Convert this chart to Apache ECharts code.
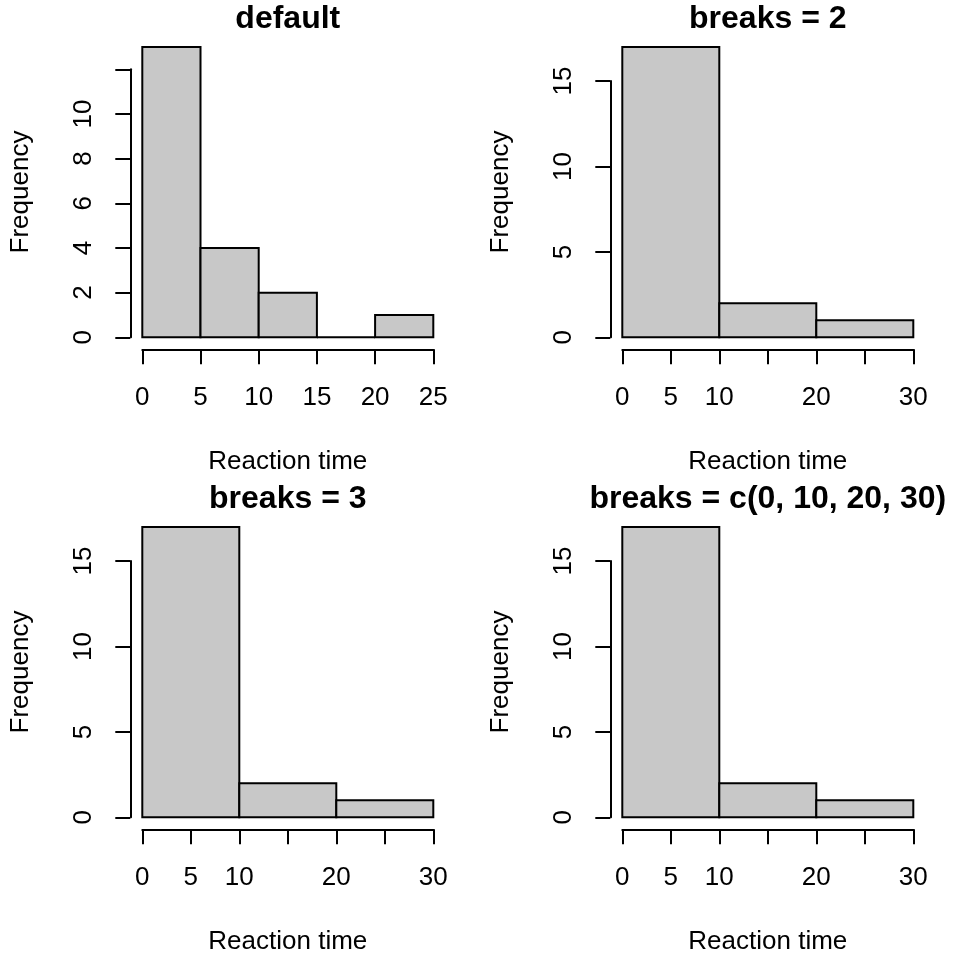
<!DOCTYPE html>
<html>
<head>
<meta charset="utf-8">
<script src="https://cdn.jsdelivr.net/npm/echarts@6/dist/echarts.min.js"></script>
<style>
  html, body { margin: 0; padding: 0; background: #fff; }
  #chart { width: 960px; height: 960px; }
</style>
</head>
<body>
<div id="chart"></div>
<script>
// histogram data, one set per panel
const panelTitles = ['default', 'breaks = 2', 'breaks = 3', 'breaks = c(0, 10, 20, 30)'];

const defaultBreaks = [0, 5, 10, 15, 20, 25];
const defaultCounts = [13, 4, 2, 0, 1];
const breaks2Breaks = [0, 10, 20, 30];
const breaks2Counts = [17, 2, 1];
const breaks3Breaks = [0, 10, 20, 30];
const breaks3Counts = [17, 2, 1];
const breaksCBreaks = [0, 10, 20, 30];
const breaksCCounts = [17, 2, 1];

// tick values and their labels ('' = R dropped the label)
const xTicksA = [0, 5, 10, 15, 20, 25];
const xLabelsA = ['0', '5', '10', '15', '20', '25'];
const xTicksB = [0, 5, 10, 15, 20, 25, 30];
const xLabelsB = ['0', '5', '10', '', '20', '', '30'];
const yTicksA = [0, 2, 4, 6, 8, 10, 12];
const yLabelsA = ['0', '2', '4', '6', '8', '10', ''];
const yTicksB = [0, 5, 10, 15];
const yLabelsB = ['0', '5', '10', '15'];

const xAxisTitle = 'Reaction time';
const yAxisTitle = 'Frequency';

const FONT = '"Liberation Sans", Arial, Helvetica, sans-serif';

const panels = [
  { breaks: defaultBreaks, counts: defaultCounts, xt: xTicksA, xl: xLabelsA, yt: yTicksA, yl: yLabelsA, h: 268 },
  { breaks: breaks2Breaks, counts: breaks2Counts, xt: xTicksB, xl: xLabelsB, yt: yTicksB, yl: yLabelsB, h: 256.2 },
  { breaks: breaks3Breaks, counts: breaks3Counts, xt: xTicksB, xl: xLabelsB, yt: yTicksB, yl: yLabelsB, h: 256.2 },
  { breaks: breaksCBreaks, counts: breaksCCounts, xt: xTicksB, xl: xLabelsB, yt: yTicksB, yl: yLabelsB, h: 256.2 }
];

function labelFor(ticks, labels) {
  return function (v) {
    const i = ticks.indexOf(v);
    return i >= 0 ? labels[i] : '';
  };
}

const grid = [], xAxis = [], yAxis = [], series = [], graphic = [];

panels.forEach((p, k) => {
  const col = k % 2, row = Math.floor(k / 2);
  const left = 142.3 + 480 * col;
  const base = 337.3 + 480 * row;
  grid.push({ left: left, top: base - p.h, width: 291, height: p.h });

  const axisCommon = {
    gridIndex: k,
    type: 'value',
    offset: 12,
    splitLine: { show: false },
    axisLine: { show: true, onZero: false, lineStyle: { color: '#000', width: 2 } },
    axisTick: { show: true, inside: false, length: 15, lineStyle: { color: '#000', width: 2 } },
    nameTextStyle: { color: '#000', fontFamily: FONT, fontSize: 26 },
    nameLocation: 'middle'
  };

  xAxis.push(Object.assign({}, axisCommon, {
    position: 'bottom',
    min: p.xt[0],
    max: p.xt[p.xt.length - 1],
    interval: p.xt[1] - p.xt[0],
    name: xAxisTitle,
    nameGap: 100,
    axisLabel: {
      color: '#000', fontFamily: FONT, fontSize: 26, margin: 36,
      showMinLabel: true, showMaxLabel: true, hideOverlap: false,
      formatter: labelFor(p.xt, p.xl)
    }
  }));

  yAxis.push(Object.assign({}, axisCommon, {
    position: 'left',
    min: p.yt[0],
    max: p.yt[p.yt.length - 1],
    interval: p.yt[1] - p.yt[0],
    axisLabel: {
      color: '#000', fontFamily: FONT, fontSize: 26, margin: 33, rotate: 90,
      showMinLabel: true, showMaxLabel: true, hideOverlap: false,
      formatter: labelFor(p.yt, p.yl)
    }
  }));

  const data = p.counts.map((c, i) => [p.breaks[i], p.breaks[i + 1], c]);
  series.push({
    type: 'custom',
    xAxisIndex: k,
    yAxisIndex: k,
    clip: false,
    silent: true,
    encode: { x: [0, 1], y: 2 },
    data: data,
    renderItem: function (params, api) {
      const a = api.coord([api.value(0), 0]);
      const b = api.coord([api.value(1), api.value(2)]);
      return {
        type: 'rect',
        shape: { x: a[0], y: b[1], width: b[0] - a[0], height: a[1] - b[1] },
        style: { fill: '#c8c8c8', stroke: '#000', lineWidth: 2 }
      };
    }
  });

  // panel title, centred over the plot region
  graphic.push({
    type: 'text',
    x: left + 145.5,
    y: 19 + 480 * row,
    style: {
      text: panelTitles[k],
      font: 'bold 32px ' + FONT,
      fill: '#000',
      textAlign: 'center',
      textVerticalAlign: 'middle',
      align: 'center',
      verticalAlign: 'middle'
    }
  });

  // y title is centred on the whole plot region (R style), not the axis
  graphic.push({
    type: 'text',
    x: 21 + 480 * col,
    y: 192 + 480 * row,
    rotation: Math.PI / 2,
    style: {
      text: yAxisTitle,
      font: '26px ' + FONT,
      fill: '#000',
      textAlign: 'center',
      textVerticalAlign: 'middle',
      align: 'center',
      verticalAlign: 'middle'
    }
  });
});

const chart = echarts.init(document.getElementById('chart'));
chart.setOption({
  animation: false,
  backgroundColor: '#fff',
  grid: grid,
  xAxis: xAxis,
  yAxis: yAxis,
  series: series,
  graphic: graphic
});
</script>
</body>
</html>
